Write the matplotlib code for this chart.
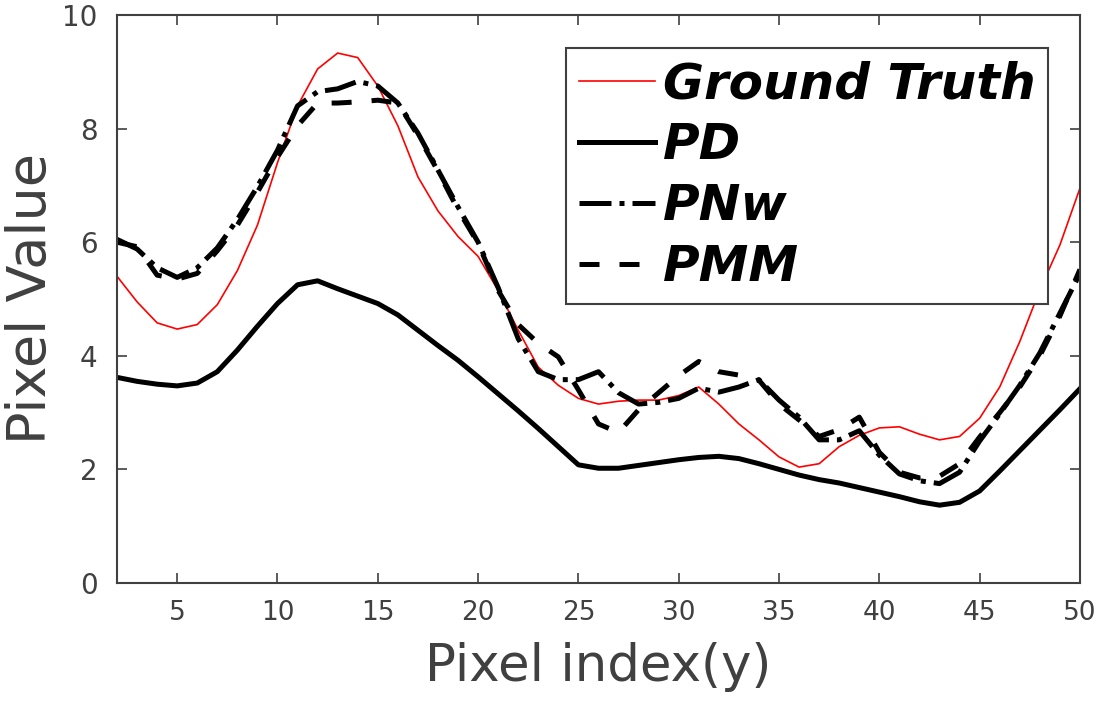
import matplotlib
matplotlib.use("Agg")
import matplotlib.pyplot as plt
import numpy as np

x = list(range(2, 51))
ground_truth = [5.40, 4.95, 4.58, 4.47, 4.55, 4.90, 5.50, 6.30, 7.40, 8.40,
                9.05, 9.33, 9.25, 8.75, 8.05, 7.15, 6.55, 6.10, 5.75, 5.15,
                4.45, 3.80, 3.48, 3.25, 3.15, 3.20, 3.22, 3.22, 3.30, 3.45,
                3.15, 2.80, 2.52, 2.22, 2.04, 2.10, 2.40, 2.60, 2.73, 2.75,
                2.62, 2.52, 2.58, 2.90, 3.45, 4.25, 5.16, 5.95, 6.95]
pd_vals = [3.62, 3.55, 3.50, 3.47, 3.52, 3.72, 4.10, 4.52, 4.92, 5.25,
           5.32, 5.18, 5.05, 4.92, 4.72, 4.45, 4.18, 3.92, 3.63, 3.33,
           3.03, 2.72, 2.40, 2.08, 2.02, 2.02, 2.07, 2.12, 2.17, 2.21,
           2.23, 2.19, 2.10, 2.00, 1.90, 1.82, 1.76, 1.68, 1.60, 1.52,
           1.43, 1.37, 1.42, 1.62, 1.97, 2.33, 2.69, 3.05, 3.42]
pnw_vals = [6.05, 5.88, 5.55, 5.38, 5.55, 5.90, 6.40, 6.98, 7.62, 8.40,
            8.65, 8.70, 8.83, 8.75, 8.45, 7.92, 7.27, 6.62, 6.00, 5.20,
            4.30, 3.72, 3.58, 3.58, 3.72, 3.35, 3.15, 3.18, 3.25, 3.43,
            3.36, 3.45, 3.58, 3.22, 2.92, 2.52, 2.52, 2.68, 2.25, 1.92,
            1.80, 1.75, 1.95, 2.50, 2.98, 3.48, 4.05, 4.75, 5.45]
pmm_vals = [6.00, 5.92, 5.42, 5.35, 5.45, 5.85, 6.30, 6.88, 7.50, 8.05,
            8.45, 8.45, 8.47, 8.50, 8.45, 7.88, 7.25, 6.57, 5.98, 5.15,
            4.55, 4.22, 3.98, 3.40, 2.80, 2.65, 3.05, 3.35, 3.65, 3.90,
            3.72, 3.66, 3.57, 3.15, 2.87, 2.58, 2.70, 2.92, 2.30, 1.95,
            1.85, 1.88, 2.10, 2.57, 3.00, 3.45, 4.00, 4.70, 5.52]
labels = ["Ground Truth", "PD", "PNw", "PMM"]
xticks = [5, 10, 15, 20, 25, 30, 35, 40, 45, 50]
yticks = [0, 2, 4, 6, 8, 10]

fig = plt.figure(figsize=(11.09, 7.04), dpi=100)
ax = fig.add_axes([0.1055, 0.1719, 0.8683, 0.8068])

ax.plot(x, ground_truth, color="red", lw=1.2, label=labels[0])
ax.plot(x, pd_vals, color="black", lw=3.6, label=labels[1])
ax.plot(x, pnw_vals, color="black", lw=3.6, linestyle="-.", label=labels[2])
ax.plot(x, pmm_vals, color="black", lw=3.6, linestyle=(0, (4, 4)), label=labels[3])

ax.set_xlim(2, 50)
ax.set_ylim(0, 10)
ax.set_xticks(xticks)
ax.set_yticks(yticks)
gray = "#404040"
ax.tick_params(direction="in", length=7, width=1.2, top=True, right=True,
               colors=gray, labelsize=19, pad=12)
ax.tick_params(axis="y", labelsize=20, pad=14)
for sp in ax.spines.values():
    sp.set_color("#404040")
    sp.set_linewidth(1.5)

ax.set_xlabel("Pixel index(y)", fontsize=37, color=gray, labelpad=12)
ax.set_ylabel("Pixel Value", fontsize=39, color=gray)
ax.yaxis.label.set_va("center")
ax.yaxis.set_label_coords(-0.0893, 0.5)

leg = ax.legend(loc="upper right", bbox_to_anchor=(0.967, 0.942),
                prop={"weight": "bold", "style": "italic", "size": 36},
                handlelength=1.52, handletextpad=0.16, labelspacing=0.26,
                borderpad=0.25, borderaxespad=0.0, fancybox=False,
                framealpha=1.0, edgecolor="#404040")
leg.get_frame().set_linewidth(1.5)

fig.savefig("out.png", dpi=100)
